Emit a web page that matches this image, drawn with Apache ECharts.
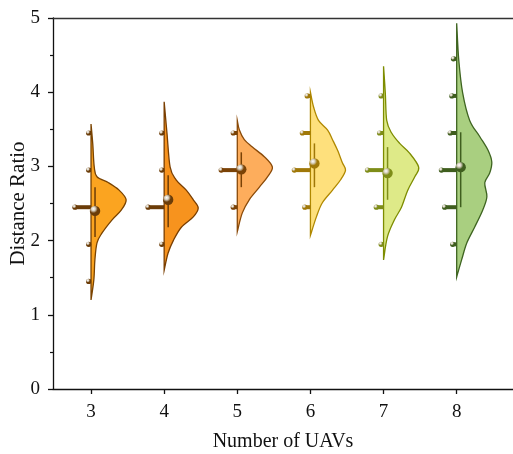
<!DOCTYPE html>
<html>
<head>
<meta charset="utf-8">
<script src="https://cdn.jsdelivr.net/npm/echarts@6/dist/echarts.min.js"></script>
<style>html,body{margin:0;padding:0;background:#fff}#c{width:513px;height:454px}</style>
</head>
<body>
<div id="c"></div>
<script>
// ---- data ----
const categories = [3, 4, 5, 6, 7, 8];
const binValues = [1.45, 1.95, 2.45, 2.95, 3.45, 3.95, 4.45];
// relative frequencies of each bin (left-hand horizontal bars)
const freq3 = [0.15, 0.15, 1.0, 0.15, 0.15, 0, 0];
const freq4 = [0, 0.15, 1.0, 0.15, 0.15, 0, 0];
const freq5 = [0, 0, 0.25, 1.0, 0.25, 0, 0];
const freq6 = [0, 0, 0.35, 1.0, 0.5, 0.2, 0];
const freq7 = [0, 0.15, 0.45, 1.0, 0.25, 0.15, 0];
const freq8 = [0, 0.25, 0.75, 0.95, 0.4, 0.3, 0.2];
// half-violin density profiles: [value, relative density]
const density3 = [[3.57,0],[3.3,0.05],[3.0,0.09],[2.86,0.17],[2.78,0.5],[2.68,0.8],[2.55,1],[2.41,0.86],[2.28,0.6],[2.10,0.31],[1.97,0.17],[1.74,0.11],[1.47,0.08],[1.2,0]];
const density4 = [[3.87,0],[3.45,0.08],[2.99,0.17],[2.82,0.34],[2.68,0.63],[2.55,0.83],[2.44,0.97],[2.32,0.83],[2.18,0.49],[2.0,0.26],[1.83,0.11],[1.6,0]];
const density5 = [[3.62,0],[3.49,0.06],[3.36,0.2],[3.26,0.43],[3.13,0.77],[2.99,1],[2.86,0.86],[2.72,0.63],[2.55,0.34],[2.37,0.14],[2.12,0]];
const density6 = [[4.0,0],[3.8,0.09],[3.62,0.23],[3.49,0.49],[3.36,0.63],[3.22,0.77],[3.05,0.91],[2.95,1],[2.82,0.86],[2.68,0.63],[2.51,0.34],[2.32,0.17],[2.07,0]];
const density7 = [[4.35,0],[3.99,0.05],[3.62,0.09],[3.45,0.23],[3.31,0.46],[3.18,0.74],[2.99,1],[2.86,0.89],[2.68,0.69],[2.45,0.51],[2.28,0.31],[2.05,0.11],[1.74,0]];
const density8 = [[4.93,0],[4.43,0.06],[3.99,0.17],[3.62,0.37],[3.40,0.66],[3.22,0.89],[3.06,1],[2.91,0.94],[2.78,0.8],[2.59,0.86],[2.41,0.74],[2.18,0.51],[1.97,0.29],[1.74,0.14],[1.51,0]];
const means = [2.40, 2.55, 2.96, 3.04, 2.91, 2.99];
const errLow = [2.05, 2.18, 2.72, 2.72, 2.55, 2.45];
const errHigh = [2.72, 2.88, 3.19, 3.31, 3.26, 3.46];
const xTicks = [3, 4, 5, 6, 7, 8];

// ---- styling ----
const freqs = [freq3, freq4, freq5, freq6, freq7, freq8];
const densities = [density3, density4, density5, density6, density7, density8];
const violinFill = ['#FBA420', '#F7931E', '#FDAD5C', '#FEE07C', '#DEEA88', '#A9CF80'];
const violinStroke = ['#7A4300', '#7A3E00', '#8A4A08', '#B08800', '#7D8C00', '#3E6420'];
const barColor = ['#6B3C08', '#6B3C08', '#7A4206', '#A07808', '#7E8D18', '#3F5E1E'];
const violinHalf = 0.48;   // x-units for full density
const barScale = 0.22;     // x-units for frequency 1
const serif = '"Liberation Serif", "Times New Roman", serif';

function ballGradient(c) {
  return new echarts.graphic.RadialGradient(0.35, 0.3, 0.75, [
    { offset: 0, color: '#ffffff' },
    { offset: 0.25, color: '#d8d0c0' },
    { offset: 0.55, color: c },
    { offset: 1, color: c }
  ]);
}

const groupData = categories.map((c, i) => [c, means[i], i]);
const barData = [];
categories.forEach((c, i) => {
  binValues.forEach((v, k) => {
    if (freqs[i][k] > 0) barData.push([c, v, freqs[i][k], i]);
  });
});

const chart = echarts.init(document.getElementById('c'), null, { renderer: 'canvas' });
chart.setOption({
  animation: false,
  grid: { left: 53, right: 0, top: 18, bottom: 65, outerBoundsMode: 'none', containLabel: false },
  xAxis: [{
    type: 'value', min: 2.48, max: 8.77,
    name: 'Number of UAVs', nameLocation: 'middle', nameGap: 43, nameMoveOverlap: false,
    nameTextStyle: { fontFamily: serif, fontSize: 20, color: '#111' },
    axisLine: { show: true, onZero: false, lineStyle: { color: '#111', width: 1.3 } },
    axisTick: { show: true, inside: false, length: 5, customValues: xTicks, lineStyle: { color: '#111', width: 1.3 } },
    axisLabel: { customValues: xTicks, fontFamily: serif, fontSize: 19, color: '#111', margin: 14 },
    splitLine: { show: false }
  }, {
    type: 'value', min: 2.48, max: 8.77, position: 'top',
    axisLine: { show: true, onZero: false, lineStyle: { color: '#333', width: 1.3 } },
    axisTick: { show: false }, axisLabel: { show: false }, splitLine: { show: false }
  }],
  yAxis: {
    type: 'value', min: 0, max: 5, interval: 1,
    name: 'Distance Ratio', nameLocation: 'middle', nameGap: 24, nameMoveOverlap: false,
    nameTextStyle: { fontFamily: serif, fontSize: 21, color: '#111' },
    axisLine: { show: true, lineStyle: { color: '#111', width: 1.3 } },
    axisTick: { show: true, inside: false, length: 5, lineStyle: { color: '#111', width: 1.3 } },
    minorTick: { show: true, splitNumber: 2, length: 3, lineStyle: { color: '#111', width: 1.2 } },
    axisLabel: { fontFamily: serif, fontSize: 19, color: '#111', margin: 13 },
    splitLine: { show: false }
  },
  series: [{
    type: 'custom', name: 'violin', xAxisIndex: 0, data: groupData, z: 2,
    renderItem: function (params, api) {
      const i = api.value(2);
      const cx = api.value(0);
      const pts = densities[i].map(p => api.coord([cx + p[1] * violinHalf, p[0]]));
      let d = 'M' + pts[0][0] + ',' + pts[0][1];
      for (let k = 0; k < pts.length - 1; k++) {
        const p0 = pts[k - 1] || pts[k], p1 = pts[k], p2 = pts[k + 1], p3 = pts[k + 2] || pts[k + 1];
        const c1 = [p1[0] + (p2[0] - p0[0]) / 6, p1[1] + (p2[1] - p0[1]) / 6];
        const c2 = [p2[0] - (p3[0] - p1[0]) / 6, p2[1] - (p3[1] - p1[1]) / 6];
        d += ' C' + c1[0] + ',' + c1[1] + ' ' + c2[0] + ',' + c2[1] + ' ' + p2[0] + ',' + p2[1];
      }
      d += ' Z';
      return { type: 'path', shape: { pathData: d }, style: { fill: violinFill[i], stroke: violinStroke[i], lineWidth: 1.3 } };
    }
  }, {
    type: 'custom', name: 'bars', xAxisIndex: 0, data: barData, z: 3,
    renderItem: function (params, api) {
      const cx = api.value(0), v = api.value(1), f = api.value(2), i = api.value(3);
      const p1 = api.coord([cx, v]);
      const p0 = api.coord([cx - f * barScale, v]);
      return {
        type: 'group', children: [
          { type: 'line', shape: { x1: p0[0], y1: p0[1], x2: p1[0], y2: p1[1] }, style: { stroke: barColor[i], lineWidth: 4 } },
          { type: 'circle', shape: { cx: p0[0], cy: p0[1], r: 2.6 }, style: { fill: ballGradient(barColor[i]) } }
        ]
      };
    }
  }, {
    type: 'custom', name: 'mean', xAxisIndex: 0, data: groupData, z: 4,
    renderItem: function (params, api) {
      const cx = api.value(0), m = api.value(1), i = api.value(2);
      const pm = api.coord([cx, m]);
      const pl = api.coord([cx, errLow[i]]);
      const ph = api.coord([cx, errHigh[i]]);
      const off = 4;
      return {
        type: 'group', children: [
          { type: 'line', shape: { x1: ph[0] + off, y1: ph[1], x2: pl[0] + off, y2: pl[1] }, style: { stroke: barColor[i], lineWidth: 1.5 } },
          { type: 'circle', shape: { cx: pm[0] + off, cy: pm[1], r: 5.2 }, style: { fill: ballGradient(barColor[i]) } }
        ]
      };
    }
  }]
});
</script>
</body>
</html>
